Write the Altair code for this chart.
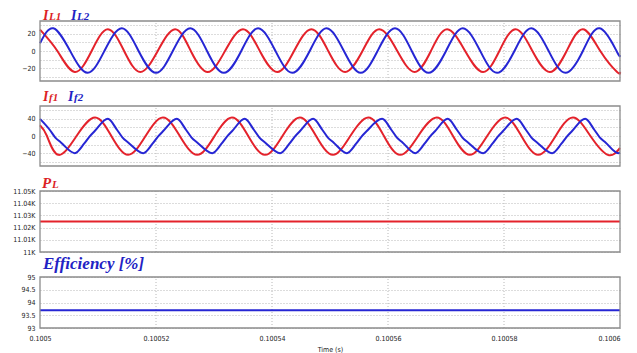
import altair as alt
import pandas as pd

# ---------------- data (times in microseconds after t = 0.1005 s) ----------------
T_START = 0.1005
T_END = 0.1006
X_TICKS = [0.1005, 0.10052, 0.10054, 0.10056, 0.10058, 0.1006]
V_GRID = [0.10052, 0.10054, 0.10056, 0.10058]

IL1_T = [0.0, 3.0, 6.0, 8.9, 11.7, 14.5, 17.3, 20.3, 23.3, 26.0, 28.9, 31.9, 35.0, 37.9,
         40.9, 43.8, 46.8, 49.7, 52.6, 55.6, 58.5, 61.6, 64.6, 67.4, 70.2, 73.3, 76.4,
         79.2, 82.0, 84.9, 87.9, 90.8, 93.6, 96.6, 99.5, 100.0]
IL1_V = [25, 0, -24.5, 0, 25.5, 0, -24.5, 0, 25.5, 0, -24.5, 0, 25.5, 0, -24.5, 0, 25.5,
         0, -24.5, 0, 25.5, 0, -24.5, 0, 25.5, 0, -24.5, 0, 25.5, 0, -24.5, 0, 25.5, 0,
         -24.5, -24.4]

IL2_T = [0.0, 2.3, 5.2, 8.2, 11.1, 14.1, 17.0, 20.0, 22.9, 25.9, 28.8, 31.7, 34.7, 37.6,
         40.6, 43.5, 46.5, 49.4, 52.4, 55.3, 58.2, 61.2, 64.1, 67.0, 70.0, 72.9, 75.9,
         78.8, 81.8, 84.7, 87.7, 90.6, 93.6, 96.5, 99.4, 100.0]
IL2_V = [9, 26.5, 0, -25.5, 0, 26.5, 0, -25.5, 0, 26.5, 0, -25.5, 0, 26.5, 0, -25.5, 0,
         26.5, 0, -25.5, 0, 26.5, 0, -25.5, 0, 26.5, 0, -25.5, 0, 26.5, 0, -25.5, 0, 26.5,
         0, -5]

IF1_T = [0.0, 1.2, 3.2, 6.3, 9.5, 12.3, 15.2, 18.2, 21.2, 24.1, 27.1, 30.1, 33.1, 35.9,
         38.8, 41.8, 44.8, 47.6, 50.5, 53.5, 56.6, 59.3, 62.1, 65.2, 68.4, 71.2, 74.1,
         77.1, 80.2, 83.0, 85.9, 88.9, 91.9, 94.9, 97.9, 100.0]
IF1_V = [25, 0, -44, 0, 43, 0, -44, 0, 43, 0, -44, 0, 43, 0, -44, 0, 43, 0, -44, 0, 43,
         0, -44, 0, 43, 0, -44, 0, 43, 0, -44, 0, 43, 0, -44, -28]

IF2_T = [0.0, 1.7, 2.6, 3.6, 6.0, 7.6, 8.5, 9.4, 11.7, 13.3, 14.2, 15.2, 17.8, 19.4, 20.3,
         21.2, 23.6, 25.2, 26.1, 27.1, 29.7, 31.3, 32.2, 33.1, 35.3, 36.9, 37.8, 38.8,
         41.4, 43.0, 43.9, 44.8, 47.1, 48.7, 49.6, 50.6, 52.9, 54.5, 55.4, 56.3, 59.0,
         60.6, 61.5, 62.5, 64.7, 66.3, 67.2, 68.1, 70.3, 71.9, 72.8, 73.8, 76.4, 78.0,
         78.9, 79.8, 82.2, 83.8, 84.7, 85.7, 88.3, 89.9, 90.8, 91.7, 94.0, 95.6, 96.5,
         97.5, 99.7, 100.0]
IF2_V = [40, 14, -3, -15, -40, -18, -2, 11, 40, 14, -3, -15, -40, -18, -2, 11, 40, 14, -3,
         -15, -40, -18, -2, 11, 40, 14, -3, -15, -40, -18, -2, 11, 40, 14, -3, -15, -40,
         -18, -2, 11, 40, 14, -3, -15, -40, -18, -2, 11, 40, 14, -3, -15, -40, -18, -2,
         11, 40, 14, -3, -15, -40, -18, -2, 11, 40, 14, -3, -15, -40, -39]

PL_T = [0.0, 100.0]
PL_V = [11025, 11025]

EFF_T = [0.0, 100.0]
EFF_V = [93.7, 93.7]

# ---------------- styling ----------------
RED = "#e4222b"
BLUE = "#2626d4"
RED_T = "#dc1f26"
BLUE_T = "#2222c4"
SERIF = "Liberation Serif, Times New Roman, serif"
NARROW = "Liberation Sans Narrow, Arial Narrow, DejaVu Sans Condensed, Liberation Sans, sans-serif"
GRID = "#b8b8b8"
FRAME = "#8c8c8c"

W = 580
H = 307


def series_df(ts, vs):
    return pd.DataFrame({"t": [T_START + u * 1e-6 for u in ts], "v": vs})


x_axis = alt.Axis(values=X_TICKS, format="~g", grid=False, domain=False, ticks=False,
                  labelFont=NARROW, labelFontSize=7, labelColor="#222", labelPadding=6,
                  labelFlush=False, labelOverlap=False,
                  labelAlign={"condition": {"test": "datum.value > 0.100595", "value": "right"},
                              "value": "center"},
                  title="Time (s)",
                  titleFont=NARROW, titleFontSize=7, titleFontWeight="normal",
                  titleColor="#222", titlePadding=4)
x_scale = alt.Scale(domain=[T_START, T_END], nice=False, zero=False)


def panel(lo, hi, rng, values, label_expr, series):
    y_scale = alt.Scale(domain=[lo, hi], range=rng, nice=False, zero=False)
    y_axis = alt.Axis(orient="left", values=values, labelExpr=label_expr, grid=True,
                      gridColor=GRID, gridDash=[1, 2], gridWidth=1, domain=False,
                      ticks=False, labelPadding=5, labelFont=NARROW, labelFontSize=7,
                      labelColor="#222", labelOverlap=False, title=None)
    fdf = pd.DataFrame({"x0": [T_START], "x1": [T_END], "lo": [lo], "hi": [hi]})
    gdf = pd.DataFrame({"x0": V_GRID, "lo": [lo] * len(V_GRID), "hi": [hi] * len(V_GRID)})
    layers = [
        alt.Chart(gdf).mark_rule(color=GRID, strokeDash=[1, 2], strokeWidth=1).encode(
            x=alt.X("x0:Q", scale=x_scale, axis=x_axis),
            y=alt.Y("lo:Q", scale=y_scale, axis=y_axis),
            y2="hi:Q"),
    ]
    for df, color, interp in series:
        layers.append(
            alt.Chart(df).mark_line(color=color, strokeWidth=2, interpolate=interp).encode(
                x=alt.X("t:Q", scale=x_scale, axis=x_axis),
                y=alt.Y("v:Q", scale=y_scale, axis=y_axis)))
    layers.append(
        alt.Chart(fdf).mark_rect(fillOpacity=0, stroke=FRAME, strokeWidth=1.3).encode(
            x=alt.X("x0:Q", scale=x_scale, axis=x_axis), x2="x1:Q",
            y=alt.Y("lo:Q", scale=y_scale, axis=y_axis), y2="hi:Q"))
    return alt.layer(*layers)


p1 = panel(-35, 35, [60, 0], [-30, -20, -10, 0, 10, 20, 30],
           "datum.value % 20 === 0 ? datum.label : ''",
           [(series_df(IL1_T, IL1_V), RED, "natural"),
            (series_df(IL2_T, IL2_V), BLUE, "natural")])
p2 = panel(-70, 70, [145, 85], [-60, -40, -20, 0, 20, 40, 60],
           "datum.value % 40 === 0 ? datum.label : ''",
           [(series_df(IF1_T, IF1_V), RED, "natural"),
            (series_df(IF2_T, IF2_V), BLUE, "monotone")])
p3 = panel(11000, 11050, [231, 170], [11000, 11010, 11020, 11030, 11040, 11050],
           "format(datum.value / 1000, '.4~') + 'K'",
           [(series_df(PL_T, PL_V), RED, "linear")])
p4 = panel(93, 95, [307, 256], [93, 93.5, 94, 94.5, 95],
           "format(datum.value, '~g')",
           [(series_df(EFF_T, EFF_V), BLUE, "linear")])


def piece(text, x, y, size, color):
    return alt.Chart(alt.Data(values=[{}])).mark_text(
        text=text, font=SERIF, fontSize=size, fontStyle="italic", fontWeight="bold",
        color=color, align="left", baseline="alphabetic").encode(
        x=alt.value(x), y=alt.value(y))


titles = [
    piece("I", 3, -1.5, 14, RED_T), piece("L1", 9, -1.5, 11, RED_T),
    piece("I", 31, -1.5, 14, BLUE_T), piece("L2", 37, -1.5, 11, BLUE_T),
    piece("I", 3, 80, 14, RED_T), piece("f1", 9, 80, 11, RED_T),
    piece("I", 28, 80, 14, BLUE_T), piece("f2", 34, 80, 11, BLUE_T),
    piece("P", 2, 167, 15, RED_T), piece("L", 12, 167, 11, RED_T),
    piece("Efficiency [%]", 3, 248, 17, BLUE_T),
]

chart = alt.layer(p1, p2, p3, p4, *titles).resolve_scale(y="independent").properties(
    width=W, height=H,
    autosize=alt.AutoSizeParams(type="none"),
    padding={"left": 32, "top": 13, "right": 9, "bottom": 25},
    background="white",
).configure_view(stroke=None)

chart.save("out.html", embed_options={"renderer": "svg", "actions": False})
